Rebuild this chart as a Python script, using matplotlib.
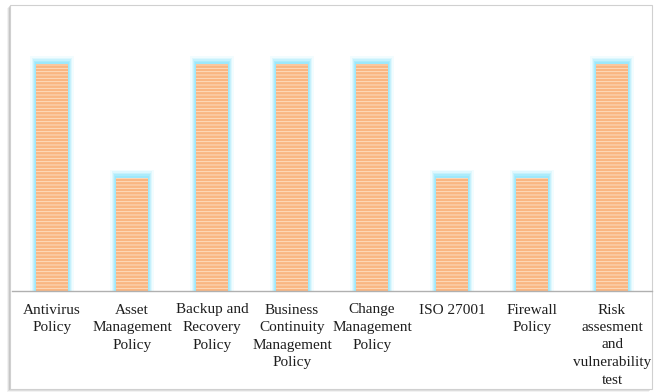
import matplotlib.pyplot as plt
from matplotlib.patches import Rectangle

# policies and how many documents cover each one
policies = [
    "Antivirus\nPolicy",
    "Asset\nManagement\nPolicy",
    "Backup and\nRecovery\nPolicy",
    "Business\nContinuity\nManagement\nPolicy",
    "Change\nManagement\nPolicy",
    "ISO 27001",
    "Firewall\nPolicy",
    "Risk\nassesment\nand\nvulnerability\ntest",
]
counts = [2, 1, 2, 2, 2, 1, 1, 2]

W, H = 654, 392
fig = plt.figure(figsize=(W / 100, H / 100), dpi=100)

# page frame with a soft shadow on the left and bottom
for off, a in [(3, 0.10), (2, 0.18), (1, 0.28)]:
    fig.patches.append(Rectangle(((10 - off) / W, (3 - off) / H),
                                 642 / W, 384 / H, transform=fig.transFigure,
                                 facecolor="#888888", edgecolor="none",
                                 alpha=a, zorder=-3))
fig.patches.append(Rectangle((10 / W, 3 / H), 642 / W, 384 / H,
                             transform=fig.transFigure, facecolor="white",
                             edgecolor="#d0d0d0", linewidth=0.8, zorder=-2))

ax = fig.add_axes([12 / W, 101 / H, 640 / W, 281 / H])
ax.patch.set_alpha(0)
x = list(range(len(counts)))

# cyan glow behind each bar
for w, a in [(0.54, 0.12), (0.51, 0.22), (0.48, 0.35), (0.45, 0.55), (0.42, 0.8)]:
    ax.bar(x, [c + (w - 0.39) * 0.45 for c in counts], width=w,
           color="#9ae8fb", alpha=a, linewidth=0, zorder=1)

plt.rcParams["hatch.linewidth"] = 0.6
ax.bar(x, counts, width=0.39, color="#f9b682", edgecolor="#fde2c8",
       linewidth=0, hatch="-----", zorder=2)

ax.set_xlim(-0.5, len(counts) - 0.5)
ax.set_ylim(0, 2.476)
ax.set_yticks([])
ax.set_xticks(x)
ax.set_xticklabels(policies, fontsize=11, family="Liberation Serif",
                   color="#1e1e1e", linespacing=1.45)
ax.tick_params(axis="x", length=0, pad=9)
for s in ["top", "left", "right"]:
    ax.spines[s].set_visible(False)
ax.spines["bottom"].set_color("#b0b0b0")
ax.spines["bottom"].set_linewidth(1.0)

fig.savefig("out.png", dpi=100)
